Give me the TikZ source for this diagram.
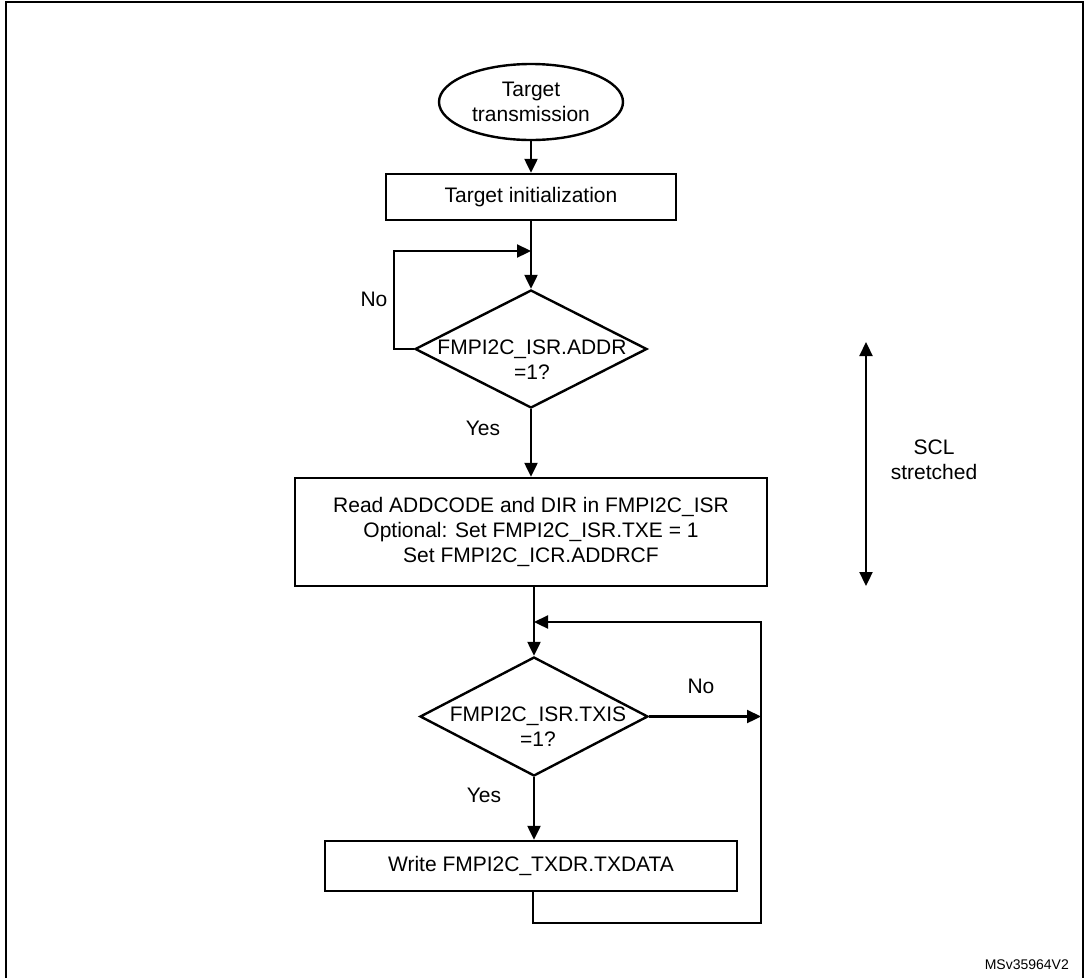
\documentclass[tikz,border=0pt]{standalone}
\usepackage{fontspec}
\setmainfont{Liberation Sans}
\usetikzlibrary{shapes.geometric,arrows.meta,calc}
\begin{document}
\begin{tikzpicture}[x=1pt,y=-1pt,
  every node/.style={font=\fontsize{21}{25}\selectfont},
  arr/.style={line width=2.3pt,-{Triangle[length=14pt,width=13pt]}},
  dblarr/.style={line width=2.3pt,{Triangle[length=14pt,width=13pt]}-{Triangle[length=14pt,width=13pt]}},
  proc/.style={draw,line width=2.4pt,rectangle,inner sep=0pt},
  dec/.style={draw,line width=2.4pt,diamond,inner sep=0pt},
  lbl/.style={inner sep=0pt}]
\useasboundingbox (0,0) rectangle (1085,978);
\draw[line width=2.4pt] (6,978) -- (6,2) -- (1083,2) -- (1083,978);

\node[draw,ellipse,line width=2.4pt,minimum width=184pt,minimum height=76pt,inner sep=0pt,align=center] (e) at (531,102) {Target\\transmission};
\node[proc,minimum width=290pt,minimum height=46pt] (b1) at (531,197) {Target initialization};
\node[dec,minimum width=232pt,minimum height=118pt,aspect=1.966] (d1) at (531,349) {};
\node[lbl,align=center] (d1t) at (532,360) {FMPI2C\_ISR.ADDR\\=1?};
\node[proc,minimum width=472pt,minimum height=108pt,align=center] (b2) at (531,532) {Read ADDCODE and DIR in FMPI2C\_ISR\\Optional: Set FMPI2C\_ISR.TXE = 1\\Set FMPI2C\_ICR.ADDRCF};
\node[dec,minimum width=228pt,minimum height=119pt,aspect=1.916] (d2) at (534,716.5) {};
\node[lbl,align=center] (d2t) at (538,727) {FMPI2C\_ISR.TXIS\\=1?};
\node[proc,minimum width=412pt,minimum height=50pt] (b3) at (531,866) {Write FMPI2C\_TXDR.TXDATA};

\node[lbl] (no1) at (374,299) {No};
\node[lbl] (yes1) at (483,428) {Yes};
\node[lbl] (no2) at (701,686) {No};
\node[lbl] (yes2) at (484,795) {Yes};
\node[lbl,align=center] (scl) at (934,460) {SCL\\stretched};
\node[lbl,font=\fontsize{14}{16}\selectfont,anchor=east] (ms) at (1069,965) {MSv35964V2};

\coordinate (j1) at (531,251);
\coordinate (l1) at (394,251);
\coordinate (j2) at (534,622);
\coordinate (r2) at (761,622);
\coordinate (m2) at (761,716.5);
\coordinate (bl) at (533,923);
\coordinate (br) at (761,923);
\coordinate (s1) at (866,342);
\coordinate (s2) at (866,586);

\draw[arr] (e) -- (b1);
\draw[arr] (b1) -- (d1);
\draw[arr] (d1.west) -- (d1.west -| l1) -- (l1) -- (j1);
\draw[arr] (d1) -- (b2);
\draw[arr] (b2.south -| d2.north) -- (d2.north);
\draw[arr] (d2.east) -- (m2);
\draw[arr] (d2.south) -- (d2.south |- b3.north);
\draw[arr] (b3.south -| bl) -- (bl) -- (br) -- (r2) -- (j2);
\draw[dblarr] (s1) -- (s2);
\end{tikzpicture}
\end{document}
